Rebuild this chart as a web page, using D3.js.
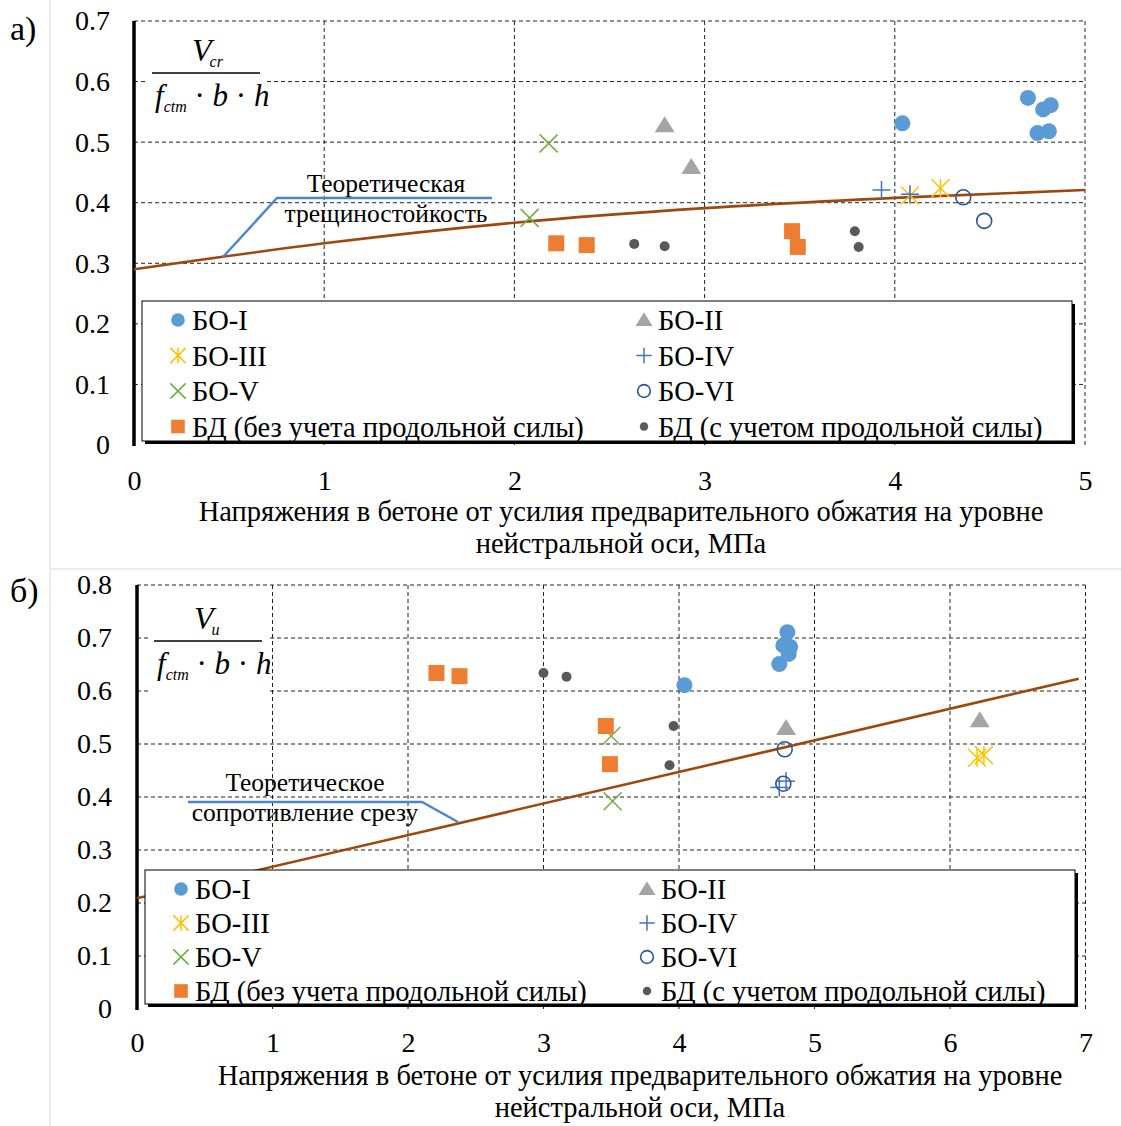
<!DOCTYPE html>
<html>
<head>
<meta charset="utf-8">
<script src="https://cdn.jsdelivr.net/npm/d3@7"></script>
<style>
body { margin: 0; background: #fff; }
text { font-family: "Liberation Serif", "Times New Roman", serif; fill: #000; }
</style>
</head>
<body>
<script>
// ---- data ----
var xTicksA = [0, 1, 2, 3, 4, 5];
var yTicksA = [0, 0.1, 0.2, 0.3, 0.4, 0.5, 0.6, 0.7];
var xTicksB = [0, 1, 2, 3, 4, 5, 6, 7];
var yTicksB = [0, 0.1, 0.2, 0.3, 0.4, 0.5, 0.6, 0.7, 0.8];

var legendNames = ["БО-I", "БО-II", "БО-III", "БО-IV", "БО-V", "БО-VI",
                   "БД (без учета  продольной силы)", "БД (с учетом продольной силы)"];
var markerTypes = ["circle", "triangle", "asterisk", "plus", "cross", "ring", "square", "dot"];

// panel a) Vcr / (fctm b h)
var boIa   = [[4.04, 0.531], [4.70, 0.573], [4.78, 0.554], [4.82, 0.561], [4.75, 0.515], [4.81, 0.518]];
var boIIa  = [[2.79, 0.528], [2.93, 0.459]];
var boIIIa = [[4.08, 0.412], [4.24, 0.424]];
var boIVa  = [[3.93, 0.421], [4.08, 0.414]];
var boVa   = [[2.18, 0.498], [2.08, 0.375]];
var boVIa  = [[4.36, 0.409], [4.47, 0.370]];
var bdNoA  = [[2.22, 0.333], [2.38, 0.330], [3.46, 0.353], [3.49, 0.327]];
var bdWithA = [[2.63, 0.332], [2.79, 0.328], [3.79, 0.353], [3.81, 0.327]];
var theoryA = [[0, 0.290], [1, 0.333], [2, 0.367], [3, 0.391], [4, 0.408], [5, 0.421]];

// panel б) Vu / (fctm b h)
var boIb   = [[4.04, 0.611], [4.80, 0.711], [4.77, 0.686], [4.82, 0.683], [4.81, 0.670], [4.74, 0.651]];
var boIIb  = [[4.79, 0.530], [6.22, 0.545]];
var boIIIb = [[6.20, 0.474], [6.25, 0.479]];
var boIVb  = [[4.74, 0.418], [4.79, 0.430]];
var boVb   = [[3.50, 0.515], [3.51, 0.392]];
var boVIb  = [[4.78, 0.490], [4.77, 0.425]];
var bdNoB  = [[2.21, 0.634], [2.38, 0.628], [3.46, 0.534], [3.49, 0.462]];
var bdWithB = [[3.00, 0.634], [3.17, 0.627], [3.96, 0.534], [3.93, 0.460]];
var theoryB = [[0, 0.209], [6.95, 0.623]];

var xTitle1 = "Напряжения  в бетоне от усилия  предварительного  обжатия на уровне";
var xTitle2 = "нейстральной  оси, МПа";

var colors = {
  circle: "#5B9BD5", triangle: "#A5A5A5", asterisk: "#FFC000", plus: "#4472C4",
  cross: "#70AD47", ring: "#2F5597", square: "#ED7D31", dot: "#595959"
};

var W = 1121, H = 1126;
var svg = d3.select("body").append("svg")
  .attr("width", W).attr("height", H);
svg.append("rect").attr("width", W).attr("height", H).attr("fill", "#fff");

// light cell borders
svg.append("line").attr("x1", 50).attr("x2", 50).attr("y1", 0).attr("y2", H)
  .attr("stroke", "#d9d9d9");
svg.append("line").attr("x1", 50).attr("x2", W).attr("y1", 569).attr("y2", 569)
  .attr("stroke", "#d9d9d9");

// draw a marker of a given type at 0,0 of g
function marker(g, type, s) {
  var c = colors[type];
  if (type == "circle") g.append("circle").attr("r", 8 * s).attr("fill", c);
  if (type == "dot") g.append("circle").attr("r", 5 * s).attr("fill", c);
  if (type == "ring") g.append("circle").attr("r", 7.5 * s).attr("fill", "none")
      .attr("stroke", c).attr("stroke-width", 1.6);
  if (type == "square") g.append("rect").attr("x", -8 * s).attr("y", -8 * s)
      .attr("width", 16 * s).attr("height", 16 * s).attr("fill", c);
  if (type == "triangle") g.append("path")
      .attr("d", "M0," + (-9 * s) + "L" + (10 * s) + "," + (7 * s) + "L" + (-10 * s) + "," + (7 * s) + "Z")
      .attr("fill", c);
  var r = 9 * s, segs = [];
  if (type == "plus" || type == "asterisk") segs.push([0, -r, 0, r]);
  if (type == "plus") segs.push([-r, 0, r, 0]);
  if (type == "cross" || type == "asterisk") {
    segs.push([-r, -r, r, r]);
    segs.push([-r, r, r, -r]);
  }
  segs.forEach(function(p) {
    g.append("line").attr("x1", p[0]).attr("y1", p[1]).attr("x2", p[2]).attr("y2", p[3])
      .attr("stroke", c).attr("stroke-width", 1.5);
  });
}

function drawPanel(cfg) {
  var x = d3.scaleLinear().domain(cfg.xDomain).range(cfg.xRange);
  var y = d3.scaleLinear().domain(cfg.yDomain).range(cfg.yRange);
  var g = svg.append("g");

  // dashed grid
  g.selectAll(".gy").data(cfg.yTicks.slice(1)).enter().append("line")
    .attr("x1", cfg.xRange[0]).attr("x2", cfg.xRange[1])
    .attr("y1", function(d) { return y(d); }).attr("y2", function(d) { return y(d); })
    .attr("stroke", "#222").attr("stroke-dasharray", "4,3");
  g.selectAll(".gx").data(cfg.xTicks.slice(1)).enter().append("line")
    .attr("x1", function(d) { return x(d); }).attr("x2", function(d) { return x(d); })
    .attr("y1", cfg.yRange[0]).attr("y2", cfg.yRange[1])
    .attr("stroke", "#222").attr("stroke-dasharray", "4,3");

  // axes
  var ya = g.append("g").attr("transform", "translate(" + cfg.xRange[0] + ",0)")
    .call(d3.axisLeft(y).tickValues(cfg.yTicks).tickSize(0).tickPadding(cfg.yPad)
      .tickFormat(function(d) { return d === 0 ? "0" : d.toFixed(1); }));
  ya.select(".domain").remove();
  ya.selectAll("text").attr("font-size", 28).attr("fill", "#000");
  var xa = g.append("g").attr("transform", "translate(0," + cfg.yRange[0] + ")")
    .call(d3.axisBottom(x).tickValues(cfg.xTicks).tickSize(0).tickPadding(cfg.xPad)
      .tickFormat(d3.format("d")));
  xa.select(".domain").remove();
  xa.selectAll("text").attr("font-size", 28).attr("fill", "#000");

  g.append("line").attr("x1", cfg.xRange[0]).attr("x2", cfg.xRange[0])
    .attr("y1", cfg.yRange[0] + 1).attr("y2", cfg.yRange[1])
    .attr("stroke", "#000").attr("stroke-width", 3.5);

  // formula label with white background
  var f = cfg.formula;
  g.append("rect").attr("x", f.x).attr("y", f.y).attr("width", 118).attr("height", 94)
    .attr("fill", "#fff");
  var num = g.append("text").attr("x", f.x + 44).attr("y", f.y + 31)
    .attr("font-size", 32).attr("font-style", "italic");
  num.append("tspan").text("V");
  num.append("tspan").attr("font-size", 16).attr("dy", 6).attr("dx", -2).text(f.sub);
  g.append("line").attr("x1", f.x + 4).attr("x2", f.x + 112)
    .attr("y1", f.y + 43).attr("y2", f.y + 43).attr("stroke", "#000").attr("stroke-width", 1.5);
  var den = g.append("text").attr("x", f.x + 7).attr("y", f.y + 76)
    .attr("font-size", 31).attr("font-style", "italic");
  den.append("tspan").text("f");
  den.append("tspan").attr("font-size", 16).attr("dy", 6).text("ctm");
  den.append("tspan").attr("dy", -6).attr("font-style", "normal").text(" · ");
  den.append("tspan").text("b");
  den.append("tspan").attr("font-style", "normal").text(" · ");
  den.append("tspan").text("h");

  // theory line
  g.append("path").datum(cfg.theory)
    .attr("d", d3.line().x(function(d) { return x(d[0]); }).y(function(d) { return y(d[1]); })
      .curve(d3.curveMonotoneX))
    .attr("fill", "none").attr("stroke", "#9E480E").attr("stroke-width", 2.6);

  // annotation
  var a = cfg.note;
  g.append("path").attr("d", d3.line()(a.leader))
    .attr("fill", "none").attr("stroke", "#4A86D0").attr("stroke-width", 2.4);
  a.lines.forEach(function(t, i) {
    g.append("text").attr("x", a.cx).attr("y", a.y + i * 30).attr("text-anchor", "middle")
      .attr("font-size", 25.5).text(t);
  });

  // points
  cfg.series.forEach(function(pts, i) {
    g.selectAll(".p" + i).data(pts).enter().append("g")
      .attr("transform", function(d) { return "translate(" + x(d[0]) + "," + y(d[1]) + ")"; })
      .each(function() { marker(d3.select(this), markerTypes[i], 1); });
  });

  // legend
  var L = cfg.legend;
  g.append("rect").attr("x", L.x + 3).attr("y", L.y + 3).attr("width", L.w).attr("height", L.h)
    .attr("fill", "#000");
  g.append("rect").attr("x", L.x).attr("y", L.y).attr("width", L.w).attr("height", L.h)
    .attr("fill", "#fff").attr("stroke", "#000").attr("stroke-width", 1);
  legendNames.forEach(function(name, i) {
    var col = i % 2, row = Math.floor(i / 2);
    var mx = L.x + 36 + col * 466, my = L.y + 19 + row * L.rowH;
    var mg = g.append("g").attr("transform", "translate(" + mx + "," + my + ")");
    marker(mg, markerTypes[i], 0.85);
    g.append("text").attr("x", mx + 14).attr("y", my + 10).attr("font-size", 28.5).text(name);
  });

  // x title
  g.append("text").attr("x", cfg.titleX).attr("y", cfg.titleY).attr("text-anchor", "middle")
    .attr("font-size", 28.5).text(xTitle1);
  g.append("text").attr("x", cfg.titleX).attr("y", cfg.titleY + 32).attr("text-anchor", "middle")
    .attr("font-size", 28.5).text(xTitle2);

  // panel letter
  g.append("text").attr("x", 10).attr("y", cfg.letterY).attr("font-size", 34).text(cfg.letter);
}

drawPanel({
  xDomain: [0, 5], xRange: [134, 1085], yDomain: [0, 0.7], yRange: [445, 21],
  xTicks: xTicksA, yTicks: yTicksA, xPad: 25, yPad: 24,
  formula: { x: 148, y: 30, sub: "cr" },
  theory: theoryA,
  note: { leader: [[223, 257], [277, 198], [492, 198]], lines: ["Теоретическая", "трещиностойкость"], cx: 386, y: 192 },
  series: [boIa, boIIa, boIIIa, boIVa, boVa, boVIa, bdNoA, bdWithA],
  legend: { x: 142, y: 301, w: 930, h: 140, rowH: 35.5 },
  titleX: 621, titleY: 521, letter: "а)", letterY: 40
});

drawPanel({
  xDomain: [0, 7], xRange: [137, 1085.5], yDomain: [0, 0.8], yRange: [1009, 585],
  xTicks: xTicksB, yTicks: yTicksB, xPad: 23, yPad: 25,
  formula: { x: 150, y: 598, sub: "u" },
  theory: theoryB,
  note: { leader: [[188, 802], [422, 802], [458, 822]], lines: ["Теоретическое", "сопротивление срезу"], cx: 305, y: 791 },
  series: [boIb, boIIb, boIIIb, boIVb, boVb, boVIb, bdNoB, bdWithB],
  legend: { x: 145, y: 870, w: 930, h: 134, rowH: 34 },
  titleX: 640, titleY: 1085, letter: "б)", letterY: 602
});
</script>
</body>
</html>
